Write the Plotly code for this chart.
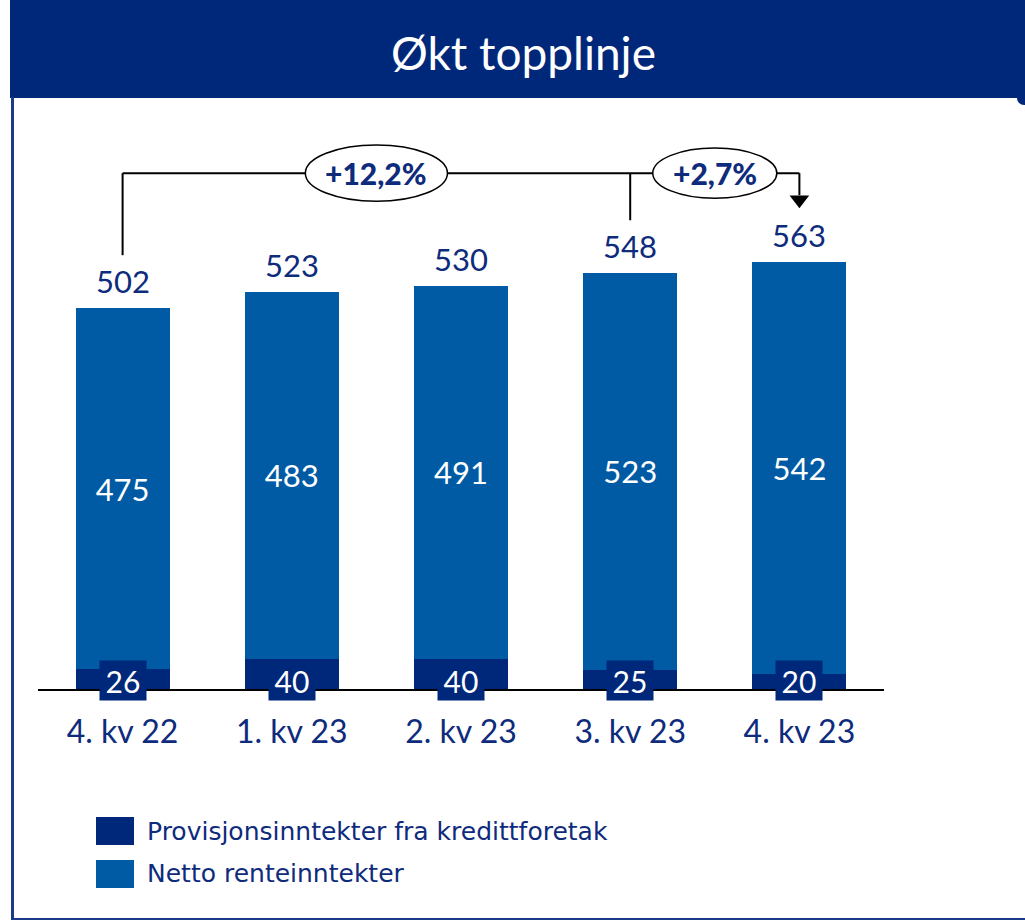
import plotly.graph_objects as go

# Quarterly figures (MNOK)
quarters = ["4. kv 22", "1. kv 23", "2. kv 23", "3. kv 23", "4. kv 23"]
provisjon = [26, 40, 40, 25, 20]          # Provisjonsinntekter fra kredittforetak
netto = [475, 483, 491, 523, 542]         # Netto renteinntekter
totals = [502, 523, 530, 548, 563]        # Sum per quarter
growth_labels = ["+12,2%", "+2,7%"]

NAVY = "#00287A"
BLUE = "#015BA4"
TEXT = "#0E2B7C"
FONT = "Lato"
WIDE_FONT = "DejaVu Sans"

# plot-area geometry in pixels (used to place header/legend decorations)
W, H = 1025, 921
L, R, T, B = 38, 141, 142, 232
PW, PH = W - L - R, H - T - B


def fx(px):
    return (px - L) / PW


def fy(py):
    return (H - B - py) / PH


fig = go.Figure()

fig.add_trace(go.Bar(
    x=quarters, y=provisjon, name="Provisjonsinntekter fra kredittforetak",
    marker=dict(color=NAVY, line=dict(width=0)), width=0.556,
    hoverinfo="y",
))
fig.add_trace(go.Bar(
    x=quarters, y=netto, name="Netto renteinntekter",
    marker=dict(color=BLUE, line=dict(width=0)), width=0.556,
    text=netto, texttemplate="%{text}", textposition="inside",
    insidetextanchor="middle", textangle=0, constraintext="none",
    textfont=dict(family=FONT, size=31, color="white"),
))

# arrow head on the right-hand bracket
fig.add_trace(go.Scatter(
    x=[quarters[4]], y=[644], mode="markers",
    marker=dict(symbol="triangle-down", size=17, color="black"),
    cliponaxis=False, hoverinfo="skip", showlegend=False,
))

annotations = []

# totals above the bars
for q, tot, n, p in zip(quarters, totals, netto, provisjon):
    annotations.append(dict(
        x=q, y=n + p, xref="x", yref="y", text=str(tot), showarrow=False,
        yanchor="middle", yshift=27,
        font=dict(family=FONT, size=31, color=TEXT),
    ))

# commission labels in navy boxes at the foot of each bar
for q, p in zip(quarters, provisjon):
    annotations.append(dict(
        x=q, y=11.5, xref="x", yref="y", text=str(p), showarrow=False,
        bgcolor=NAVY, width=42, height=35, borderpad=2,
        font=dict(family=FONT, size=30, color="white"),
    ))

shapes = []
line = dict(color="black", width=2)
bracket_y = 679

# growth brackets
shapes += [
    dict(type="line", xref="x", yref="y", x0=0, x1=0, y0=571, y1=bracket_y, line=line),
    dict(type="line", xref="x", yref="y", x0=0, x1=4, y0=bracket_y, y1=bracket_y, line=line),
    dict(type="line", xref="x", yref="y", x0=3, x1=3, y0=617, y1=bracket_y, line=line),
    dict(type="line", xref="x", yref="y", x0=4, x1=4, y0=650, y1=bracket_y, line=line),
]
ellipses = [(1.5, 0.84, 74), (3.5, 0.733, 66)]
for (cx, w, h), lab in zip(ellipses, growth_labels):
    shapes.append(dict(
        type="circle", xref="x", yref="y",
        x0=cx - w / 2, x1=cx + w / 2, y0=bracket_y - h / 2, y1=bracket_y + h / 2,
        line=dict(color="black", width=1.5), fillcolor="white",
    ))
    annotations.append(dict(
        x=cx, y=bracket_y, xref="x", yref="y", text=lab,
        showarrow=False, font=dict(family=FONT, size=30, color=TEXT, weight=900),
    ))

# header band with title
shapes.append(dict(type="rect", xref="paper", yref="paper",
                   x0=fx(10), x1=fx(1026), y0=fy(98), y1=fy(-1),
                   fillcolor=NAVY, line=dict(width=0), layer="below"))
shapes.append(dict(type="circle", xref="paper", yref="paper",
                   x0=fx(1017), x1=fx(1031), y0=fy(105), y1=fy(91),
                   fillcolor=NAVY, line=dict(width=0)))
annotations.append(dict(
    x=fx(523), y=fy(52), xref="paper", yref="paper", text="Økt topplinje",
    showarrow=False, xanchor="center", yanchor="middle",
    font=dict(family=FONT, size=46, color="white"),
))

# frame
shapes += [
    dict(type="line", xref="paper", yref="paper", x0=fx(12.5), x1=fx(12.5),
         y0=fy(97), y1=fy(919.5), line=dict(color="#1C3A8A", width=3)),
    dict(type="line", xref="paper", yref="paper", x0=fx(11), x1=fx(1026),
         y0=fy(919), y1=fy(919), line=dict(color="#1C3A8A", width=2)),
]

# legend
legend_items = [("Provisjonsinntekter fra kredittforetak", NAVY, 831),
                ("Netto renteinntekter", BLUE, 874)]
for text, col, cy in legend_items:
    shapes.append(dict(type="rect", xref="paper", yref="paper",
                       x0=fx(96), x1=fx(134), y0=fy(cy + 14), y1=fy(cy - 14),
                       fillcolor=col, line=dict(width=0)))
    annotations.append(dict(
        x=fx(145), y=fy(cy), xref="paper", yref="paper", text=text,
        showarrow=False, xanchor="left", yanchor="middle",
        font=dict(family=WIDE_FONT, size=25, color=TEXT),
    ))

fig.update_layout(
    width=W, height=H,
    margin=dict(l=L, r=R, t=T, b=B, pad=0),
    barmode="stack",
    showlegend=False,
    paper_bgcolor="white", plot_bgcolor="white",
    shapes=shapes, annotations=annotations,
    xaxis=dict(
        type="category", range=[-0.5, 4.5], showgrid=False, zeroline=False,
        showline=True, linecolor="black", linewidth=2,
        ticks="", ticklabelstandoff=14,
        tickfont=dict(family=FONT, size=32, color=TEXT),
        fixedrange=True,
    ),
    yaxis=dict(range=[0, 720], visible=False, fixedrange=True),
)

fig.write_html("out.html")
